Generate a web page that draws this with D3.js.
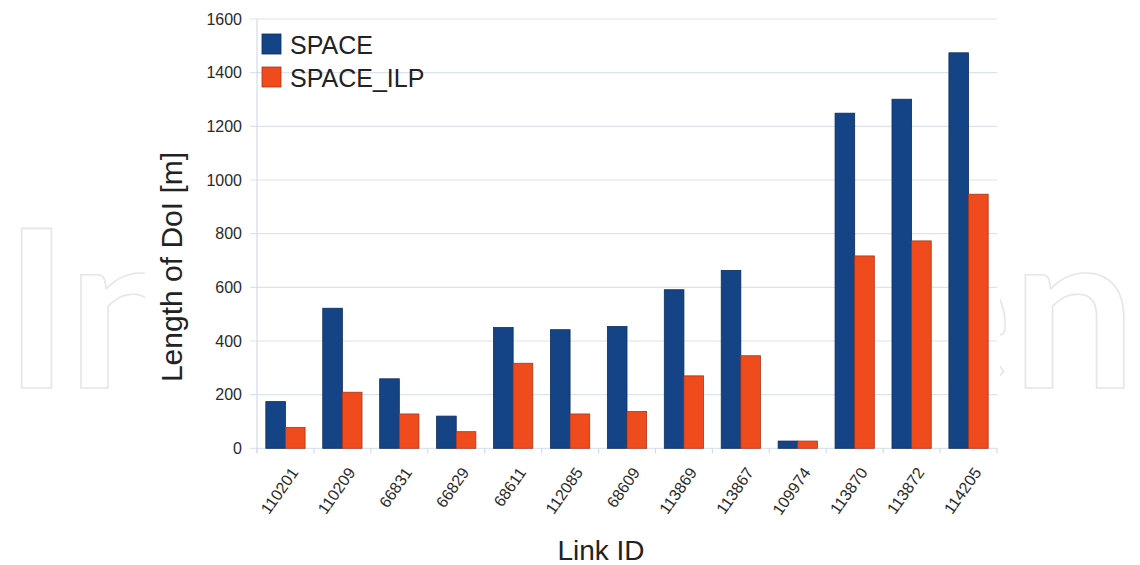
<!DOCTYPE html>
<html>
<head>
<meta charset="utf-8">
<script src="https://cdn.jsdelivr.net/npm/d3@7/dist/d3.min.js"></script>
<style>
  html, body { margin: 0; padding: 0; background: #fff; }
  svg { display: block; }
</style>
</head>
<body>
<svg id="chart" width="1140" height="565"></svg>
<script>
const categories = ["110201","110209","66831","66829","68611","112085","68609","113869","113867","109974","113870","113872","114205"];
const seriesNames = ["SPACE", "SPACE_ILP"];
const spaceValues = [174, 522, 259, 120, 450, 442, 454, 591, 663, 27, 1249, 1301, 1474];
const ilpValues   = [78, 209, 128, 62, 317, 128, 137, 270, 345, 27, 717, 773, 947];
const yTicks = [0, 200, 400, 600, 800, 1000, 1200, 1400, 1600];
const colors = ["#154486", "#f04b1d"];
const strokes = ["#0c2c5c", "#a8361a"];

const svg = d3.select("#chart");
const W = 1140, H = 565;
const margin = {left: 257, right: 1140 - 997, top: 19, bottom: 565 - 448.3};

// watermark
const wm = svg.append("g");
wm.append("text").attr("x", 4).attr("y", 388)
  .attr("font-family", "Lato").attr("font-weight", 700).attr("font-size", 220)
  .attr("fill", "#fff").attr("stroke", "#e6e6e6").attr("stroke-width", 1.6)
  .text("In");
wm.append("text").attr("x", 1136).attr("y", 388).attr("text-anchor", "end")
  .attr("font-family", "Lato").attr("font-weight", 700).attr("font-size", 220)
  .attr("fill", "#fff").attr("stroke", "#e6e6e6").attr("stroke-width", 1.6)
  .text("en");
svg.append("rect").attr("x", 145).attr("y", 0).attr("width", 1000 - 145).attr("height", H).attr("fill", "#fff");

const x = d3.scaleBand().domain(categories).range([margin.left, W - margin.right]).padding(0);
const xs = d3.scaleBand().domain(seriesNames).range([0, x.bandwidth()]).paddingInner(0).paddingOuter(0.45);
const y = d3.scaleLinear().domain([0, 1600]).range([H - margin.bottom, margin.top]);

// gridlines
svg.append("g").selectAll("line").data(yTicks).join("line")
  .attr("x1", margin.left - 7).attr("x2", W - margin.right)
  .attr("y1", d => y(d)).attr("y2", d => y(d))
  .attr("stroke", "#dbe3ec").attr("stroke-width", 1.2);

// y axis line
svg.append("line").attr("x1", margin.left).attr("x2", margin.left)
  .attr("y1", y(1600)).attr("y2", y(0) + 5)
  .attr("stroke", "#d3dce6").attr("stroke-width", 1.2);

// x ticks at category boundaries
const bounds = categories.map(c => x(c)).concat([W - margin.right]);
svg.append("g").selectAll("line").data(bounds).join("line")
  .attr("x1", d => d).attr("x2", d => d)
  .attr("y1", y(0)).attr("y2", y(0) + 5)
  .attr("stroke", "#d3dce6").attr("stroke-width", 1.2);

// y tick labels
const yAxis = d3.axisLeft(y).tickValues(yTicks).tickFormat(d3.format("d")).tickSize(0).tickPadding(15);
const yg = svg.append("g").attr("transform", `translate(${margin.left},0)`).call(yAxis);
yg.select(".domain").remove();
yg.selectAll("text").attr("font-family", "Liberation Sans").attr("font-size", 16).attr("fill", "#2a2a2a");

// bars
const data = categories.map((c, i) => ({cat: c, vals: [spaceValues[i], ilpValues[i]]}));
const groups = svg.append("g").selectAll("g").data(data).join("g")
  .attr("transform", d => `translate(${x(d.cat)},0)`);
groups.selectAll("rect").data(d => d.vals.map((v, j) => ({name: seriesNames[j], v, j}))).join("rect")
  .attr("x", d => xs(d.name)).attr("width", xs.bandwidth())
  .attr("y", d => y(d.v)).attr("height", d => y(0) - y(d.v))
  .attr("fill", d => colors[d.j]).attr("stroke", d => strokes[d.j]).attr("stroke-width", 0.8);

// x tick labels
const xAxis = d3.axisBottom(x).tickSize(0).tickPadding(0);
const xg = svg.append("g").attr("transform", `translate(0,${y(0)})`).call(xAxis);
xg.select(".domain").remove();
xg.selectAll("text")
  .attr("font-family", "Liberation Sans").attr("font-size", 16).attr("fill", "#2a2a2a")
  .attr("text-anchor", "end").attr("dy", "0.35em")
  .attr("transform", "translate(9,21) rotate(-55)");

// legend
const lg = svg.append("g");
seriesNames.forEach((n, i) => {
  lg.append("rect").attr("x", 262).attr("y", 34 + i * 33).attr("width", 19).attr("height", 20)
    .attr("fill", colors[i]).attr("stroke", strokes[i]).attr("stroke-width", 0.8);
  lg.append("text").attr("x", 290).attr("y", 54 + i * 33)
    .attr("font-family", "Liberation Sans").attr("font-size", 25).attr("fill", "#222")
    .text(n);
});

// axis titles
svg.append("text").attr("transform", "translate(182,267) rotate(-90)")
  .attr("text-anchor", "middle").attr("font-family", "Liberation Sans").attr("font-size", 30).attr("fill", "#222")
  .text("Length of DoI [m]");
svg.append("text").attr("x", 601).attr("y", 560)
  .attr("text-anchor", "middle").attr("font-family", "Liberation Sans").attr("font-size", 28).attr("fill", "#222")
  .text("Link ID");
</script>
</body>
</html>
